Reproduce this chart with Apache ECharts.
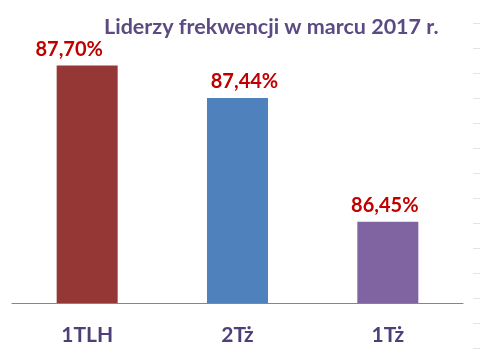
<!DOCTYPE html>
<html><head><meta charset="utf-8">
<script src="https://cdn.jsdelivr.net/npm/echarts@6/dist/echarts.min.js"></script>
<style>html,body{margin:0;padding:0;background:#fff}#c{width:481px;height:363px}</style>
</head><body><div id="c"></div>
<script>
const categories = ['1TLH', '2Tż', '1Tż'];
const values = [87.70, 87.44, 86.45];
const barColors = ['#953735', '#4F81BD', '#8064A2'];
const labelOffsets = [[-18, 0], [7, 0], [-3, 0]];
const titleText = 'Liderzy frekwencji w marcu 2017 r.';

const FONT = 'Lato';
const chart = echarts.init(document.getElementById('c'), null, {renderer: 'canvas'});
chart.setOption({
  animation: false,
  backgroundColor: '#ffffff',
  title: {
    text: titleText, left: 99, top: 11,
    textStyle: {fontFamily: FONT, fontWeight: 'bold', fontSize: 21.5, color: '#5B4B82'}
  },
  grid: [
    {left: 12, right: 18, top: 28, bottom: 60},
    {left: 473, right: 0, top: 23, bottom: 15}
  ],
  xAxis: [{
    type: 'category', data: categories, gridIndex: 0,
    axisLine: {lineStyle: {color: '#868686', width: 1}},
    axisTick: {length: 8, lineStyle: {color: '#868686'}},
    axisLabel: {margin: 22, fontFamily: FONT, fontWeight: 'bold', fontSize: 21, color: '#4E3F79'}
  }, {
    type: 'value', gridIndex: 1, show: false
  }],
  yAxis: [{
    type: 'value', gridIndex: 0, min: 85.8, max: 88, show: false
  }, {
    type: 'value', gridIndex: 1, min: 0, max: 13, interval: 1, position: 'left',
    axisLine: {show: false},
    axisTick: {show: true, inside: true, length: 7, lineStyle: {color: '#e4e4e4'}},
    axisLabel: {show: false}, splitLine: {show: false}
  }],
  series: [{
    type: 'bar', xAxisIndex: 0, yAxisIndex: 0,
    barWidth: 61,
    data: values.map((v, i) => ({
      value: v,
      itemStyle: {color: barColors[i]},
      label: {offset: labelOffsets[i]}
    })),
    label: {
      show: true, position: 'top', distance: 6,
      fontFamily: FONT, fontWeight: 'bold', fontSize: 20, color: '#C00000',
      formatter: p => p.value.toFixed(2).replace('.', ',') + '%'
    }
  }]
});
</script></body></html>
